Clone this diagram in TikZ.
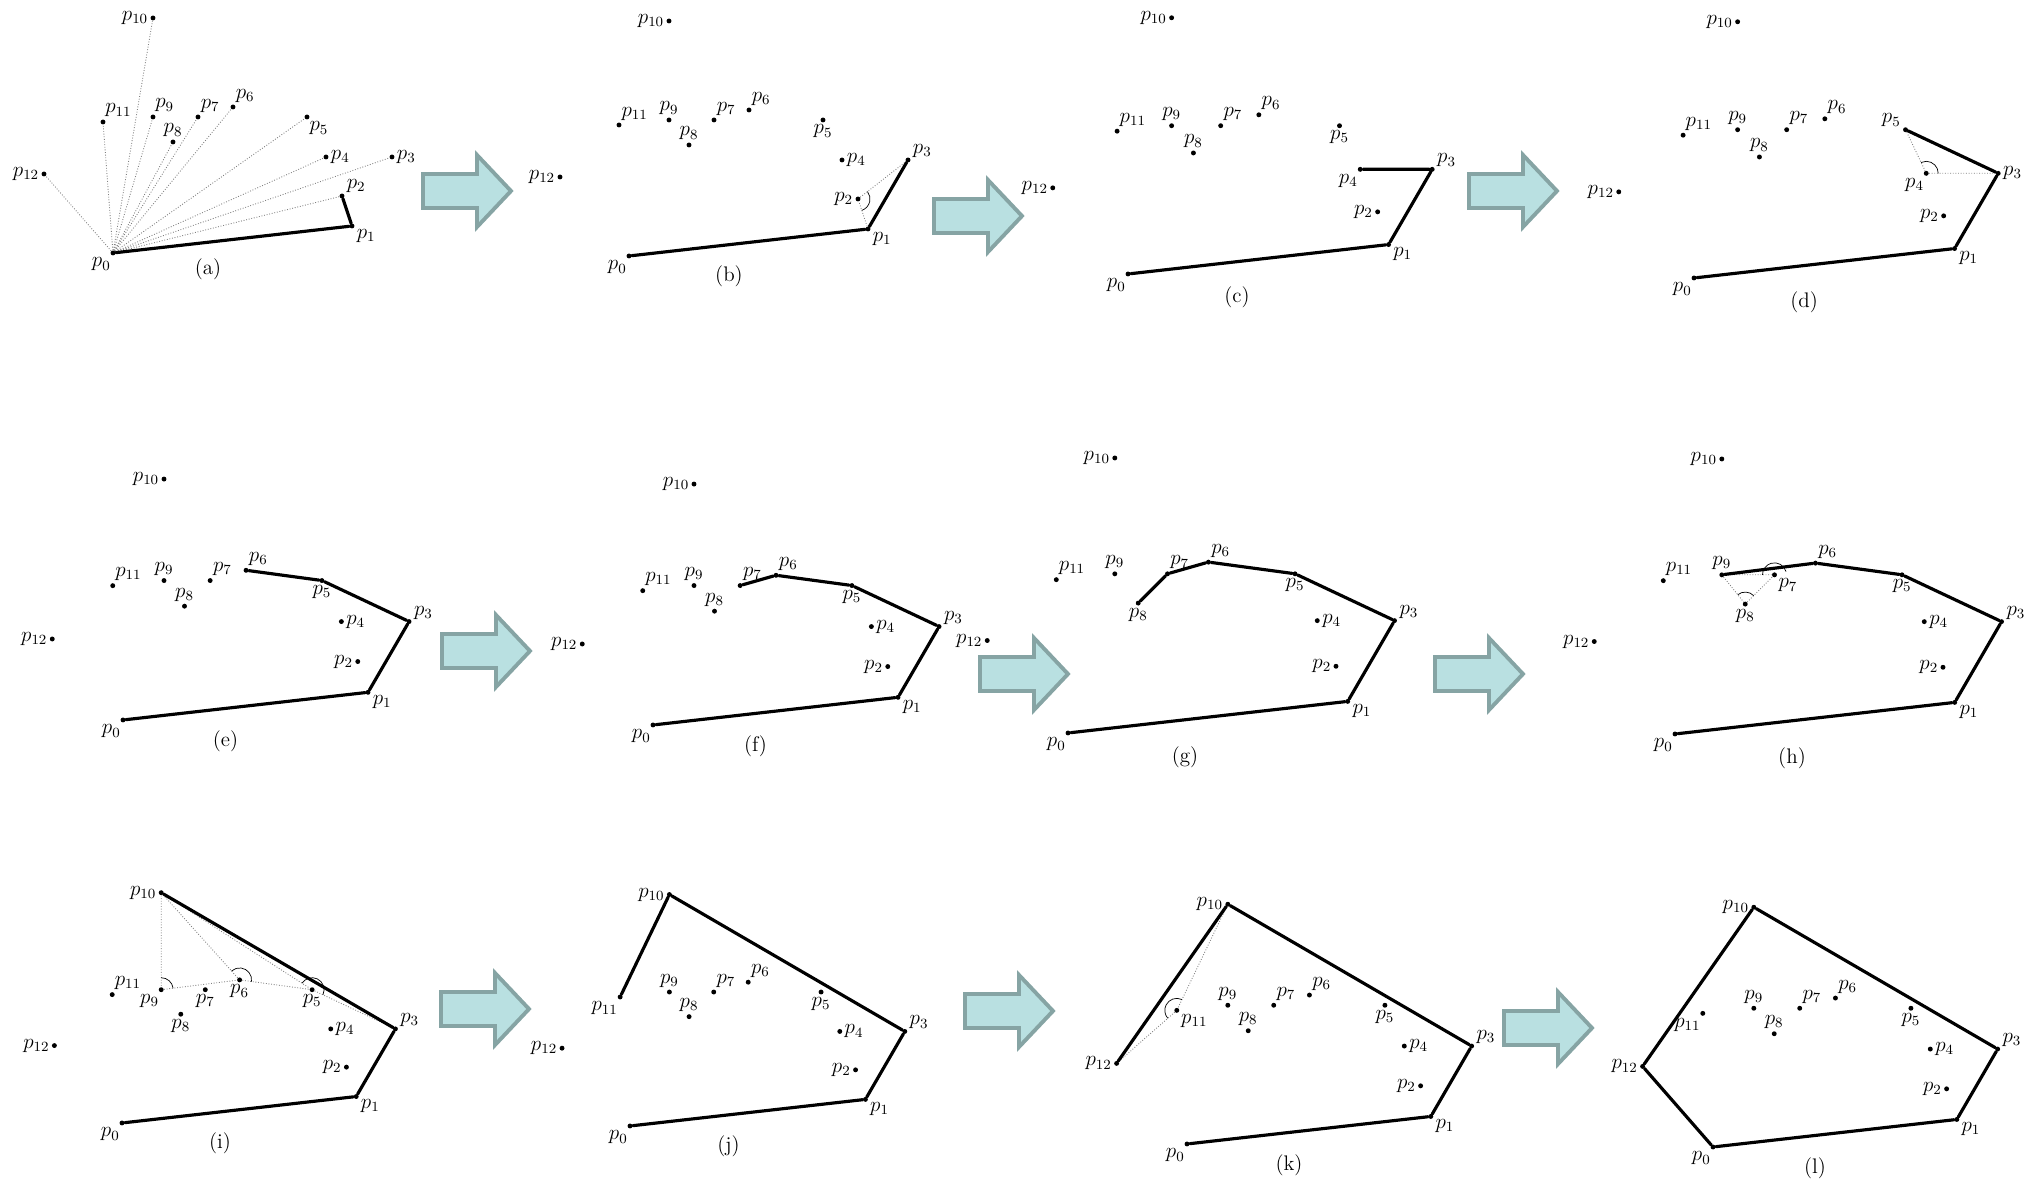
\documentclass[tikz,border=0pt]{standalone}
\usepackage{amsmath}
\usetikzlibrary{angles}

\definecolor{arrowfill}{HTML}{B9E0E1}
\definecolor{arrowline}{HTML}{86A4A4}

\tikzset{
  dot/.style={circle, fill=black, inner sep=0pt, minimum size=2.8pt},
  lbl/.style={font=\fontsize{12}{14}\selectfont, inner sep=1pt},
  hull/.style={line width=1.8pt, line cap=round, line join=round},
  guide/.style={gray, densely dotted, line width=0.5pt},
  ang/.style={draw, line width=0.4pt, angle radius=0.24cm},
  panelcap/.style={font=\fontsize{12}{14}\selectfont},
  arrowbody/.style={fill=arrowfill, draw=arrowline, line width=2.2pt, line join=miter},
  bigarrow/.pic={\draw[arrowbody] (0,-17) -- (54,-17) -- (54,-36) -- (88,0)
      -- (54,36) -- (54,17) -- (0,17) -- cycle;}
}

% point set, relative to p0 (pixels)
\newcommand\ptcoords{0/0/0, 1/239/27, 2/229/57, 3/279/96, 4/213/96, 5/194/136,
  6/120/146, 7/85/136, 8/60/111, 9/40/136, 10/40/235, 11/-10/131, 12/-69/79}
\newcommand\deflbl{0/-95, 1/-20, 2/180, 3/5, 4/0, 5/-90, 6/75, 7/75, 8/90,
  9/90, 10/180, 11/80, 12/180}
\newcommand\placepts[2]{%
  \foreach \i/\x/\y in \ptcoords {\coordinate (q\i) at (\x,\y);}
  \foreach \i/\ang in #2 {\node[dot, label={[lbl]\ang:$p_{\i}$}] (#1\i) at (q\i) {};}
}

\begin{document}
\begin{tikzpicture}[x=0.02cm, y=0.02cm]
  \useasboundingbox (0,0) rectangle (2033,1179);

  % Big arrows between the steps
  \foreach \ax/\ay in {423/988, 934/963, 1469/988, 442/528, 980/505, 1435/505,
      441/170, 965/168, 1504/151}
    \pic at (\ax,\ay) {bigarrow};

  % (a)
  \begin{scope}[shift={(113,926)}]
    \placepts{a}{{0/-95, 1/-20, 2/20, 3/0, 4/0, 5/-80, 6/75, 7/75, 8/90,
      9/85, 10/180, 11/85, 12/180}}
    \foreach \i in {1,...,12} \draw[guide] (a0) -- (a\i);
    \draw[hull] (a0) -- (a1) -- (a2);
    \node[panelcap] (acap) at (95,-16) {(a)};
  \end{scope}

  % (b)
  \begin{scope}[shift={(629,923)}]
    \placepts{b}{\deflbl}
    \draw[guide] (b1) -- (b2) -- (b3);
    \pic[ang] {angle=b1--b2--b3};
    \draw[hull] (b0) -- (b1) -- (b3);
    \node[panelcap] (bcap) at (100,-20) {(b)};
  \end{scope}

  % (c)
  \begin{scope}[shift={(1128,905)}, scale=1.09]
    \placepts{c}{{0/-95, 1/-20, 2/180, 3/5, 4/-100, 5/-90, 6/75, 7/75, 8/90,
      9/90, 10/180, 11/80, 12/180}}
    \draw[hull] (c0) -- (c1) -- (c3) -- (c4);
    \node[panelcap] (ccap) at (100,-21) {(c)};
  \end{scope}

  % (d)
  \begin{scope}[shift={(1694,901)}, scale=1.09]
    \placepts{d}{{0/-95, 1/-20, 2/180, 3/0, 4/-95, 5/170, 6/75, 7/75, 8/90,
      9/90, 10/180, 11/80, 12/180}}
    \draw[guide] (d5) -- (d4) -- (d3);
    \pic[ang] {angle=d3--d4--d5};
    \draw[hull] (d0) -- (d1) -- (d3) -- (d5);
    \node[panelcap] (dcap) at (101,-22) {(d)};
  \end{scope}

  % (e)
  \begin{scope}[shift={(123,459)}, scale=1.025]
    \placepts{e}{\deflbl}
    \draw[hull] (e0) -- (e1) -- (e3) -- (e5) -- (e6);
    \node[panelcap] (ecap) at (100,-21) {(e)};
  \end{scope}

  % (f)
  \begin{scope}[shift={(653,454)}, scale=1.025]
    \placepts{f}{\deflbl}
    \draw[hull] (f0) -- (f1) -- (f3) -- (f5) -- (f6) -- (f7);
    \node[panelcap] (fcap) at (100,-21) {(f)};
  \end{scope}

  % (g)
  \begin{scope}[shift={(1068,446)}, scale=1.17]
    \placepts{g}{{0/-95, 1/-20, 2/180, 3/5, 4/0, 5/-90, 6/75, 7/75, 8/-90,
      9/90, 10/180, 11/80, 12/180}}
    \draw[hull] (g0) -- (g1) -- (g3) -- (g5) -- (g6) -- (g7) -- (g8);
    \node[panelcap] (gcap) at (100,-21) {(g)};
  \end{scope}

  % (h)
  \begin{scope}[shift={(1675,445)}, scale=1.17]
    \placepts{h}{{0/-95, 1/-20, 2/180, 3/5, 4/0, 5/-90, 6/75, 7/-45, 8/-90,
      9/90, 10/180, 11/80, 12/180}}
    \draw[guide] (h9) -- (h8) -- (h7) -- (h9);
    \pic[ang] {angle=h7--h8--h9};
    \pic[ang] {angle=h6--h7--h9};
    \draw[hull] (h0) -- (h1) -- (h3) -- (h5) -- (h6) -- (h9);
    \node[panelcap] (hcap) at (100,-21) {(h)};
  \end{scope}

  % (i)
  \begin{scope}[shift={(122,56)}, scale=0.98]
    \placepts{i}{{0/-95, 1/-20, 2/180, 3/5, 4/0, 5/-90, 6/-90, 7/-90, 8/-90,
      9/-95, 10/180, 11/80, 12/180}}
    \draw[guide] (i10) -- (i9) -- (i6) -- (i5) -- (i3);
    \draw[guide] (i10) -- (i6);
    \draw[guide] (i10) -- (i5);
    \pic[ang] {angle=i6--i9--i10};
    \pic[ang] {angle=i5--i6--i10};
    \pic[ang] {angle=i3--i5--i10};
    \draw[hull] (i0) -- (i1) -- (i3) -- (i10);
    \node[panelcap] (icap) at (100,-21) {(i)};
  \end{scope}

  % (j)
  \begin{scope}[shift={(630,53)}, scale=0.985]
    \placepts{j}{{0/-95, 1/-20, 2/180, 3/5, 4/0, 5/-90, 6/75, 7/75, 8/90,
      9/90, 10/180, 11/-95, 12/180}}
    \draw[hull] (j0) -- (j1) -- (j3) -- (j10) -- (j11);
    \node[panelcap] (jcap) at (100,-21) {(j)};
  \end{scope}

  % (k)
  \begin{scope}[shift={(1187,35)}, scale=1.02]
    \placepts{k}{{0/-95, 1/-20, 2/180, 3/5, 4/0, 5/-90, 6/75, 7/75, 8/90,
      9/90, 10/180, 11/-35, 12/180}}
    \draw[guide] (k10) -- (k11) -- (k12);
    \pic[ang] {angle=k10--k11--k12};
    \draw[hull] (k0) -- (k1) -- (k3) -- (k10) -- (k12);
    \node[panelcap] (kcap) at (100,-21) {(k)};
  \end{scope}

  % (l)
  \begin{scope}[shift={(1713,32)}, scale=1.02]
    \placepts{l}{{0/-95, 1/-20, 2/180, 3/5, 4/0, 5/-90, 6/75, 7/75, 8/90,
      9/90, 10/180, 11/-95, 12/180}}
    \draw[hull] (l0) -- (l1) -- (l3) -- (l10) -- (l12) -- (l0);
    \node[panelcap] (lcap) at (100,-21) {(l)};
  \end{scope}

\end{tikzpicture}
\end{document}
